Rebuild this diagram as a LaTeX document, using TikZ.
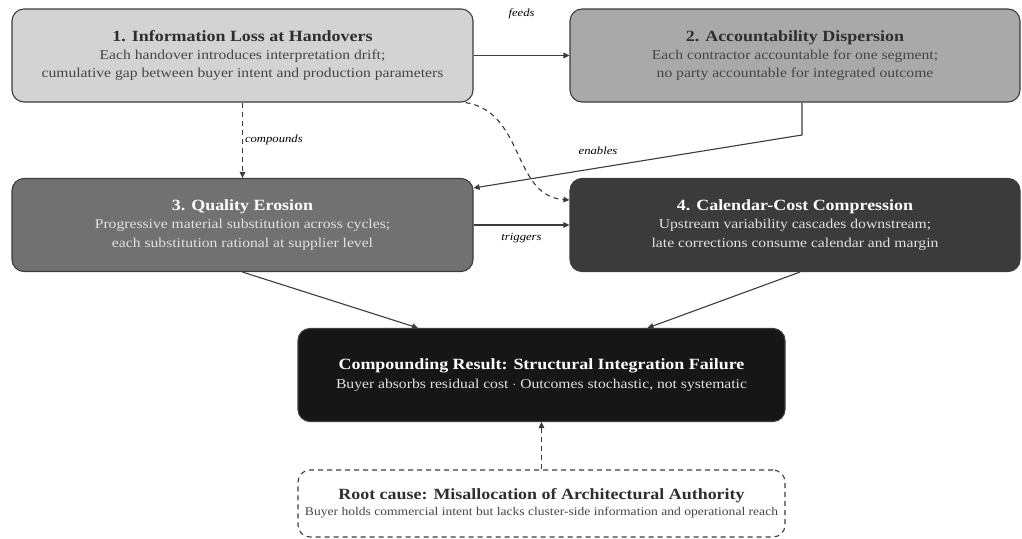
\documentclass[tikz,border=0pt]{standalone}
\usepackage{fontspec}
\setmainfont{Liberation Serif}[FakeStretch=1.15]
\usetikzlibrary{arrows.meta,calc}
\definecolor{fillA}{HTML}{D3D3D3}
\definecolor{fillB}{HTML}{A9A9A9}
\definecolor{fillC}{HTML}{717171}
\definecolor{fillD}{HTML}{3B3B3B}
\definecolor{fillE}{HTML}{161616}
\definecolor{edgeC}{HTML}{3C3C3C}
\definecolor{darkT}{HTML}{2E2E2E}
\definecolor{bodyT}{HTML}{454545}
\definecolor{lightT}{HTML}{E2E2E2}
\newcommand{\ttlf}{\bfseries\fontsize{15.6}{18.4}\selectfont}
\newcommand{\bdyf}{\fontsize{13.6}{18.4}\selectfont}
\newcommand{\lblf}{\itshape\fontsize{11}{13}\selectfont}
\tikzset{
  card/.style={draw=edgeC, line width=1.1pt, rounded corners=12pt, align=center,
    minimum height=93pt, inner sep=0pt, font=\bdyf},
  wide/.style={minimum width=461pt},
  wideR/.style={minimum width=450pt},
  wideM/.style={minimum width=487pt},
  conn/.style={draw=edgeC, line width=1.1pt, -{Triangle[length=6pt,width=5.5pt]}},
  dconn/.style={conn, dash pattern=on 5pt off 4pt},
  lbl/.style={font=\lblf, text=black, inner sep=2pt}
}
\begin{document}
\begin{tikzpicture}[x=1pt,y=-1pt]
\useasboundingbox[fill=white] (0,0) rectangle (1022,538);
\node[card, wide, fill=fillA] (b1) at (242.5,55.5)
  {{\ttlf\color{darkT}1. Information Loss at Handovers}\\
   \color{bodyT}Each handover introduces interpretation drift;\\
   \color{bodyT}cumulative gap between buyer intent and production parameters};
\node[card, wideR, fill=fillB] (b2) at (795,55.5)
  {{\ttlf\color{darkT}2. Accountability Dispersion}\\
   \color{bodyT}Each contractor accountable for one segment;\\
   \color{bodyT}no party accountable for integrated outcome};
\node[card, wide, fill=fillC] (b3) at (242.5,225)
  {{\ttlf\color{white}3. Quality Erosion}\\
   \color{lightT}Progressive material substitution across cycles;\\
   \color{lightT}each substitution rational at supplier level};
\node[card, wideR, fill=fillD] (b4) at (795,225)
  {{\ttlf\color{white}4. Calendar-Cost Compression}\\
   \color{lightT}Upstream variability cascades downstream;\\
   \color{lightT}late corrections consume calendar and margin};
\node[card, wideM, fill=fillE] (res) at (541.5,375)
  {{\ttlf\color{white}Compounding Result: Structural Integration Failure}\\
   \color{lightT}Buyer absorbs residual cost $\cdot$ Outcomes stochastic, not systematic};
\node[card, wideM, fill=white, minimum height=67pt, dash pattern=on 5pt off 4pt] (root) at (541.5,503.5)
  {{\ttlf\color{darkT}Root cause: Misallocation of Architectural Authority}\\[-2pt]
   {\fontsize{11.8}{14}\selectfont\color{bodyT}Buyer holds commercial intent but lacks cluster-side information and operational reach}};
% connectors
\draw[conn] (b1.east) -- node[lbl, yshift=42pt]{feeds} (b2.west);
\coordinate (e1) at (802,135);
\draw[conn] (b2.south -| e1) -- (e1) -- ($(b3.east)+(0,-37)$);
\node[lbl] (enl) at (598,151) {enables};
\draw[dconn] (b1.south) -- node[lbl, right]{compounds} (b3.north);
\draw[dconn] ($(b1.south east)+(-8,0)$) .. controls (525,112) and (512,196) .. ($(b4.west)+(0,-25)$);
\draw[conn] (b3.east) -- node[lbl, below, yshift=-6pt]{triggers} (b4.west);
\draw[conn] (b3.south) -- ($(res.north)+(-123.5,0)$);
\draw[conn] ($(b4.south)+(5,0)$) -- ($(res.north)+(106,0)$);
\draw[dconn] (root.north) -- (res.south);
\end{tikzpicture}
\end{document}
